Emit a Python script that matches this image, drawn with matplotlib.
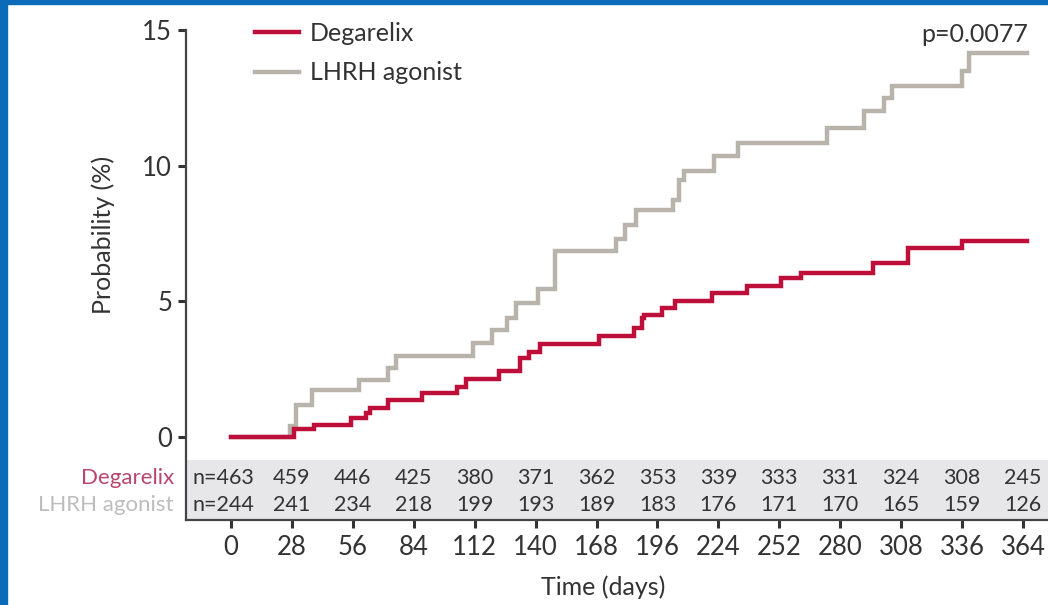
import matplotlib
matplotlib.use("Agg")
import matplotlib.pyplot as plt
from matplotlib.patches import Rectangle

plt.rcParams['font.family'] = ['Lato', 'DejaVu Sans']

# Cumulative probability (%) step curves: event day and value after the step
degarelix_days = [0, 29, 38, 55, 62, 64, 72, 88, 104, 108, 123, 133, 137, 142,
                  169, 185, 189, 190, 198, 204, 221, 237, 253, 262, 295, 311, 336, 366]
degarelix_prob = [0.0, 0.30, 0.44, 0.70, 0.90, 1.07, 1.36, 1.62, 1.85, 2.12, 2.45, 2.90, 3.13, 3.43,
                  3.72, 4.00, 4.40, 4.50, 4.75, 5.00, 5.30, 5.57, 5.85, 6.04, 6.40, 6.97, 7.23, 7.23]

lhrh_days = [0, 27, 30, 37, 59, 72, 76, 111, 120, 127, 131, 141, 149, 177, 181, 186,
             203, 206, 208, 222, 233, 274, 291, 300, 304, 336, 339, 366]
lhrh_prob = [0.0, 0.40, 1.18, 1.73, 2.10, 2.55, 3.00, 3.46, 3.94, 4.40, 4.94, 5.45, 6.86, 7.30, 7.80, 8.37,
             8.73, 9.47, 9.80, 10.35, 10.84, 11.40, 12.00, 12.50, 12.93, 13.50, 14.15, 14.15]

# Numbers at risk
risk_days = [0, 28, 56, 84, 112, 140, 168, 196, 224, 252, 280, 308, 336, 364]
degarelix_risk = [463, 459, 446, 425, 380, 371, 362, 353, 339, 333, 331, 324, 308, 245]
lhrh_risk = [244, 241, 234, 218, 199, 193, 189, 183, 176, 171, 170, 165, 159, 126]

x_ticks = [0, 28, 56, 84, 112, 140, 168, 196, 224, 252, 280, 308, 336, 364]
x_tick_labels = [str(t) for t in x_ticks]
y_ticks = [0, 5, 10, 15]
y_tick_labels = ["0", "5", "10", "15"]

RED = '#be0f3b'
GREY = '#b8b3ab'
TEXT = '#333333'
W, H = 1048, 605

fig = plt.figure(figsize=(W / 100, H / 100), dpi=100)
fig.patch.set_facecolor('white')

# blue frame along left and top edges
fig.patches.append(Rectangle((0, 0), 7 / W, 1, transform=fig.transFigure,
                             color='#0b6bb8', zorder=10))
fig.patches.append(Rectangle((0, 1 - 4 / H), 1, 4 / H, transform=fig.transFigure,
                             color='#0b6bb8', zorder=10))

ax = fig.add_axes([186 / W, (H - 520) / H, (W - 186) / W, 490 / H])
ax.set_xlim(-20.7, 375.5)
ax.set_ylim(-3.06, 15)

# shaded band holding the numbers at risk
ax.axhspan(-3.06, -0.85, color='#e7e7e9', zorder=0, lw=0)

ax.step(degarelix_days, degarelix_prob, where='post', color=RED, lw=3.2,
        solid_joinstyle='miter', label='Degarelix', zorder=3)
ax.step(lhrh_days, lhrh_prob, where='post', color=GREY, lw=3.2,
        solid_joinstyle='miter', label='LHRH agonist', zorder=2)

for sp in ['top', 'right']:
    ax.spines[sp].set_visible(False)
for sp in ['left', 'bottom']:
    ax.spines[sp].set_color('#444444')
    ax.spines[sp].set_linewidth(1.6)

ax.set_yticks(y_ticks)
ax.set_yticklabels(y_tick_labels)
ax.set_xticks(x_ticks)
ax.set_xticklabels(x_tick_labels)
ax.tick_params(axis='both', direction='out', length=6, width=2.2, color='#333333',
               labelsize=18.5, labelcolor=TEXT)
ax.tick_params(axis='y', pad=4)
ax.tick_params(axis='x', pad=5)

# numbers at risk rows
for i, (d, a, b) in enumerate(zip(risk_days, degarelix_risk, lhrh_risk)):
    sa = f"n={a}" if i == 0 else str(a)
    sb = f"n={b}" if i == 0 else str(b)
    xd = d - 3.5 if i == 0 else d
    ax.text(xd, -1.51, sa, ha='center', va='center', fontsize=15.5, color=TEXT)
    ax.text(xd, -2.51, sb, ha='center', va='center', fontsize=15.5, color=TEXT)

fig.text(174 / W, 1 - 478 / H, "Degarelix", ha='right', va='center',
         fontsize=16, color='#b8466d')
fig.text(174 / W, 1 - 505 / H, "LHRH agonist", ha='right', va='center',
         fontsize=16, color='#bdbdbd')

leg = ax.legend(loc='upper left', bbox_to_anchor=((255 - 186) / (W - 186), (520 - 22) / 490),
                frameon=False, fontsize=18, handlelength=1.75, handletextpad=0.45,
                labelspacing=0.66, borderpad=0, borderaxespad=0, labelcolor=TEXT)

fig.text(1028 / W, 1 - 35 / H, "p=0.0077", ha='right', va='center',
         fontsize=18, color=TEXT)

fig.text(103 / W, 1 - 235 / H, "Probability (%)", rotation=90, ha='center',
         va='center', fontsize=18, color=TEXT)
fig.text(603 / W, 1 - 587 / H, "Time (days)", ha='center', va='center',
         fontsize=18, color=TEXT)

fig.savefig('out.png', dpi=100)
